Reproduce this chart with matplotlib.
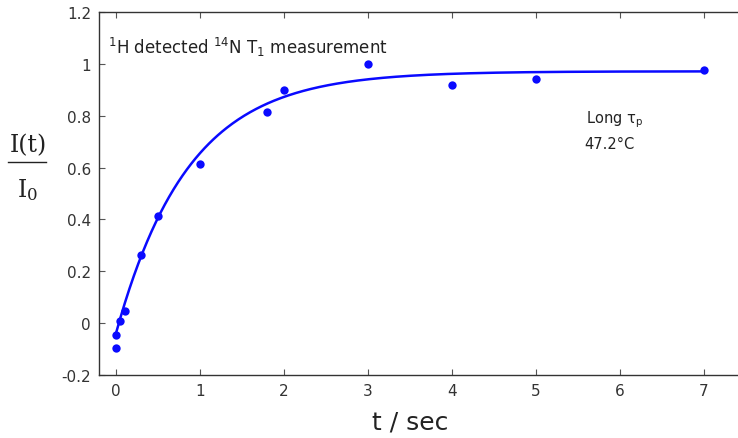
import numpy as np
import matplotlib
matplotlib.use('Agg')
import matplotlib.pyplot as plt
from matplotlib.lines import Line2D

# 1H detected 14N T1 recovery, long tau_p, 47.2 C
t_sec = [0.0, 0.0, 0.05, 0.1, 0.3, 0.5, 1.0, 1.8, 2.0, 3.0, 4.0, 5.0, 7.0]
I_ratio = [-0.097, -0.046, 0.008, 0.048, 0.264, 0.412, 0.614, 0.813, 0.898, 0.999, 0.918, 0.941, 0.976]

# exponential recovery fit I/I0 = A - B*exp(-t/T1)
fit_A = 0.972
fit_B = 1.01
fit_T1 = 0.86

xticks = [0, 1, 2, 3, 4, 5, 6, 7]
yticks = [-0.2, 0, 0.2, 0.4, 0.6, 0.8, 1, 1.2]

def main():
    plt.rcParams['mathtext.default'] = 'regular'
    blue = '#0a0aff'
    fig = plt.figure(figsize=(7.38, 4.39), dpi=100)
    ax = fig.add_axes([0.1346, 0.1442, 0.8876, 0.8255])

    tt = np.linspace(0, 7, 400)
    ax.plot(tt, fit_A - fit_B*np.exp(-tt/fit_T1), color=blue, lw=1.8, zorder=2)
    ax.plot(t_sec, I_ratio, 'o', color=blue, ms=6, mec='none', zorder=3)

    ax.set_xlim(-0.2, 7.6)
    ax.set_ylim(-0.2, 1.2)
    ax.set_xticks(xticks)
    ax.set_yticks(yticks)
    ax.set_yticklabels(['-0.2', '0', '0.2', '0.4', '0.6', '0.8', '1', '1.2'])
    ax.tick_params(direction='in', length=4, width=0.8, colors='#555555',
                   labelcolor='#333333', labelsize=11, top=True, pad=6)
    for s in ax.spines.values():
        s.set_color('#333333')
        s.set_linewidth(1.0)
    ax.spines['right'].set_visible(False)

    ax.set_xlabel('t / sec', fontsize=18, color='#222222', labelpad=2)
    ax.xaxis.set_label_coords(0.474, -0.095)

    # y label as a stacked fraction
    fig.text(28/738, 1-146/439, 'I(t)', family='DejaVu Serif', fontsize=17,
             ha='center', va='center', color='#222222')
    fig.add_artist(Line2D([8/738, 46/738], [1-163/439, 1-163/439],
                          color='#222222', lw=1.0))
    fig.text(28/738, 1-190/439, '$I_0$', family='DejaVu Serif', fontsize=17,
             ha='center', va='center', color='#222222')
    plt.rcParams['mathtext.fontset'] = 'dejavuserif'

    ax.text(-0.1, 1.07, r'$^{1}$H detected $^{14}$N T$_{1}$ measurement',
            fontsize=12, color='#222222', va='center', ha='left')
    ax.text(5.6, 0.79, r'Long $\tau_p$', fontsize=10.5, color='#222222', va='center')
    ax.text(5.58, 0.695, '47.2\u00b0C', fontsize=10.5, color='#222222', va='center')

    fig.savefig('out.png', dpi=100)
    plt.close()

if __name__ == '__main__': main()
